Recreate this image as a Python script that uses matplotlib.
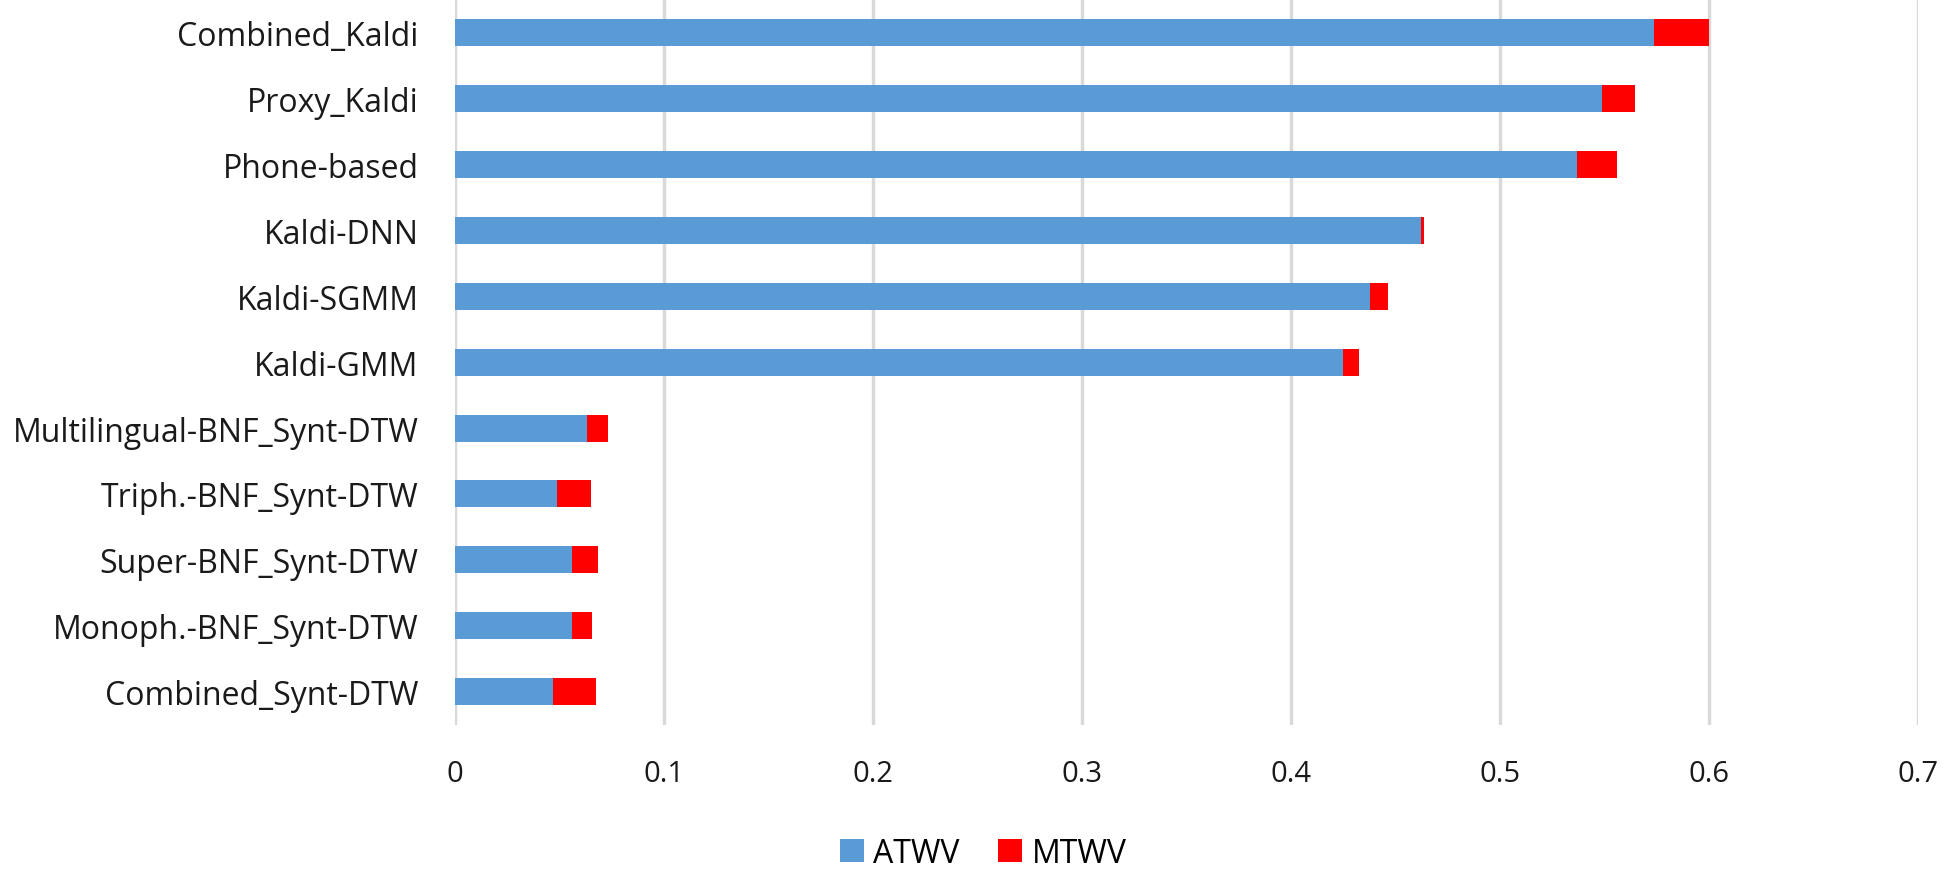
import numpy as np
import matplotlib
matplotlib.use("Agg")
from matplotlib import pyplot as plt

systems = ["Combined_Kaldi", "Proxy_Kaldi", "Phone-based", "Kaldi-DNN", "Kaldi-SGMM",
           "Kaldi-GMM", "Multilingual-BNF_Synt-DTW", "Triph.-BNF_Synt-DTW",
           "Super-BNF_Synt-DTW", "Monoph.-BNF_Synt-DTW", "Combined_Synt-DTW"]
atwv = [0.574, 0.549, 0.537, 0.4625, 0.438, 0.425, 0.0635, 0.049, 0.056, 0.056, 0.047]
total = [0.600, 0.5647, 0.556, 0.464, 0.4467, 0.4325, 0.0733, 0.0651, 0.0687, 0.0659, 0.0678]
mtwv = [t - a for t, a in zip(total, atwv)]

plt.rcParams['font.family'] = ['Open Sans', 'DejaVu Sans']

fig = plt.figure(figsize=(19.43, 8.70), dpi=100)
ax = fig.add_axes([0.234, 0.166, 0.753, 0.833])

y = np.arange(len(systems))
ax.barh(y, atwv, height=0.41, color='#5B9BD5', label='ATWV', zorder=3)
ax.barh(y, mtwv, left=atwv, height=0.41, color='#FF0000', label='MTWV', zorder=3)

ax.set_ylim(len(systems) - 0.5, -0.5)
ax.set_xlim(0, 0.7)
ax.set_xticks(np.arange(0, 0.71, 0.1))
ax.set_xticklabels(['0', '0.1', '0.2', '0.3', '0.4', '0.5', '0.6', '0.7'])
ax.set_yticks(y)
ax.set_yticklabels(systems)
ax.tick_params(axis='both', length=0, labelsize=23, colors='#1a1a1a')
ax.tick_params(axis='x', pad=25, labelsize=21)
ax.tick_params(axis='y', pad=26)
ax.grid(axis='x', color='#d9d9d9', linewidth=2.5, zorder=0)
for s in ax.spines.values():
    s.set_visible(False)

fig.legend(loc='lower center', bbox_to_anchor=(0.506, -0.034), ncol=2, frameon=False,
           fontsize=23, handlelength=0.75, handleheight=0.75, handletextpad=0.3,
           columnspacing=1.2)

fig.savefig('out.png', dpi=100)
